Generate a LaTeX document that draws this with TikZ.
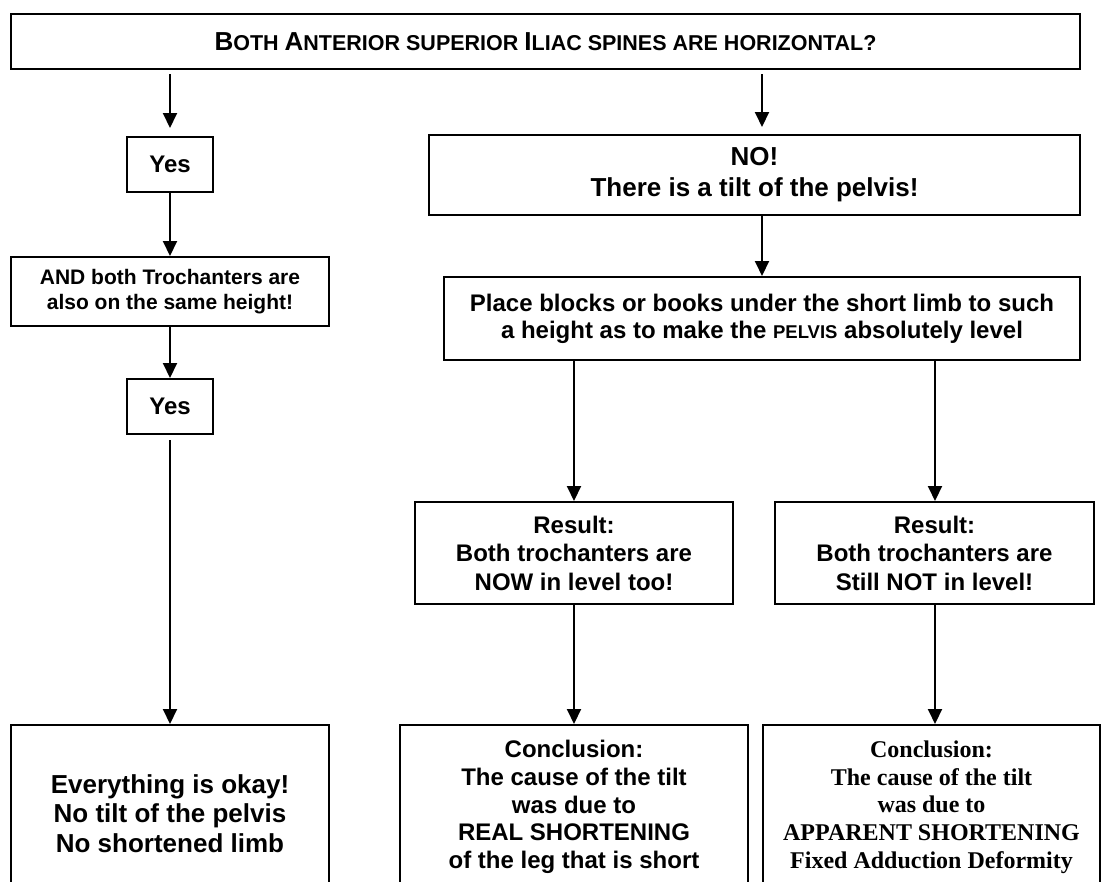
\documentclass[tikz,border=0pt]{standalone}
\usepackage{fontspec}
\setmainfont{Liberation Sans}
\newfontfamily\timesbold{Liberation Serif}
\usetikzlibrary{arrows.meta}

% reduced capitals for the small-caps words
\newcommand\smallcp[2]{{\fontsize{#1}{#1}\selectfont #2}}

\tikzset{
  flowbox/.style={draw=black, line width=2pt, inner sep=0pt, align=center},
  fsz/.style 2 args={font={\bfseries\fontsize{#1}{#2}\selectfont}},
  flowarrow/.style={line width=2pt, -{Triangle[width=14pt,length=15pt]}},
}

\begin{document}
\begin{tikzpicture}[x=1pt, y=-1pt]
  \useasboundingbox (0,0) rectangle (1102,881);
  \fill[white] (0,0) rectangle (1102,881);
  \clip (0,0) rectangle (1102,881);

  % question
  \node[flowbox, fsz={26}{30}, minimum width=1069pt, minimum height=55pt] (question) at (545.5,41.5)
    {B\smallcp{21.5}{OTH }A\smallcp{21.5}{NTERIOR SUPERIOR }I\smallcp{21.5}{LIAC SPINES ARE HORIZONTAL?}};

  % left branch
  \node[flowbox, fsz={24}{28}, minimum width=86pt, minimum height=55pt] (yesA) at (170,164.5) {Yes};
  \node[flowbox, fsz={21}{24.5}, minimum width=318pt, minimum height=69pt] (troch) at (170,291.5)
    {AND both Trochanters are\\ also on the same height!};
  \node[flowbox, fsz={24}{28}, minimum width=86pt, minimum height=55pt] (yesB) at (170,406.5) {Yes};
  \node[flowbox, fsz={26}{29.8}, minimum width=318pt, minimum height=177pt] (okay) at (170,813.5)
    {Everything is okay!\\ No tilt of the pelvis\\ No shortened limb};

  % right branch
  \node[flowbox, fsz={26}{31}, minimum width=651pt, minimum height=80pt] (tilt) at (754.5,175)
    {NO!\\ There is a tilt of the pelvis!};
  \node[flowbox, fsz={24}{27}, minimum width=636pt, minimum height=83pt] (blocks) at (762,318.5)
    {Place blocks or books under the short limb to such\\ a height as to make the \smallcp{18.5}{PELVIS} absolutely level};
  \node[flowbox, fsz={24}{28.5}, minimum width=318pt, minimum height=102pt] (resA) at (574,553)
    {Result:\\ Both trochanters are\\ NOW in level too!};
  \node[flowbox, fsz={24}{28.5}, minimum width=319pt, minimum height=102pt] (resB) at (934.5,553)
    {Result:\\ Both trochanters are\\ Still NOT in level!};
  \node[flowbox, fsz={24}{27.7}, minimum width=348pt, minimum height=164pt] (concA) at (574,807)
    {Conclusion:\\ The cause of the tilt\\ was due to\\ REAL SHORTENING\\ of the leg that is short};
  \node[flowbox, font={\timesbold\bfseries\fontsize{24}{27.7}\selectfont}, minimum width=337pt, minimum height=164pt] (concB) at (931.5,807)
    {Conclusion:\\ The cause of the tilt\\ was due to\\ APPARENT SHORTENING\\ Fixed Adduction Deformity};

  % connector columns
  \coordinate (colL) at (170,0);
  \coordinate (colM) at (762,0);
  \coordinate (colA) at (574,0);
  \coordinate (colB) at (935,0);

  % connectors
  \draw[flowarrow, shorten <=4pt, shorten >=8pt] (question.south -| colL) -- (yesA.north);
  \draw[flowarrow] (yesA) -- (troch);
  \draw[flowarrow] (troch) -- (yesB);
  \draw[flowarrow, shorten <=5pt] (yesB) -- (okay);
  \draw[flowarrow, shorten <=4pt, shorten >=7pt] (question.south -| colM) -- (tilt.north -| colM);
  \draw[flowarrow] (tilt.south -| colM) -- (blocks.north -| colM);
  \draw[flowarrow] (blocks.south -| colA) -- (resA.north -| colA);
  \draw[flowarrow] (blocks.south -| colB) -- (resB.north -| colB);
  \draw[flowarrow] (resA.south -| colA) -- (concA.north -| colA);
  \draw[flowarrow] (resB.south -| colB) -- (concB.north -| colB);
\end{tikzpicture}
\end{document}
